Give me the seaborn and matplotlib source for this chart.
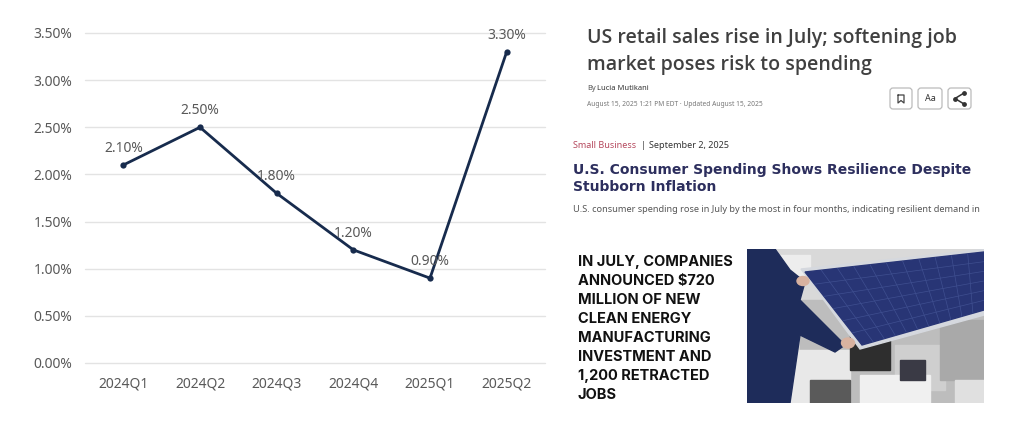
import numpy as np
import pandas as pd
import matplotlib.pyplot as plt
import matplotlib.patches as mpatches
import seaborn as sns

# --- chart data ---
quarters = ["2024Q1", "2024Q2", "2024Q3", "2024Q4", "2025Q1", "2025Q2"]
growth = [2.10, 2.50, 1.80, 1.20, 0.90, 3.30]
y_ticks = [0.0, 0.5, 1.0, 1.5, 2.0, 2.5, 3.0, 3.5]

# --- news clippings on the right ---
headline_1 = ["US retail sales rise in July; softening job", "market poses risk to spending"]
byline_1 = "By Lucia Mutikani"
dateline_1 = "August 15, 2025 1:21 PM EDT · Updated August 15, 2025"
section_2 = "Small Business"
date_2 = "September 2, 2025"
headline_2 = ["U.S. Consumer Spending Shows Resilience Despite", "Stubborn Inflation"]
body_2 = "U.S. consumer spending rose in July by the most in four months, indicating resilient demand in"
callout_3 = ["IN JULY, COMPANIES", "ANNOUNCED $720", "MILLION OF NEW", "CLEAN ENERGY",
             "MANUFACTURING", "INVESTMENT AND", "1,200 RETRACTED", "JOBS"]

NAVY = "#172b4d"
GREY_TXT = "#595959"
W, H = 1024, 434


def fig_rect(x0, y0, x1, y1):
    # pixel box (top-left origin) -> figure fraction rect
    return [x0 / W, 1 - y1 / H, (x1 - x0) / W, (y1 - y0) / H]


sns.set_theme(style="whitegrid")
plt.rcParams["font.family"] = ["Noto Sans", "DejaVu Sans"]

fig = plt.figure(figsize=(W / 100, H / 100), dpi=100)
fig.patch.set_facecolor("white")

# 1. Line chart
df = pd.DataFrame({"quarter": quarters, "growth": growth})
ax = fig.add_axes(fig_rect(85, 33, 545, 363))
sns.lineplot(data=df, x="quarter", y="growth", ax=ax, sort=False,
             color=NAVY, linewidth=2, marker="o", markersize=4.5,
             markeredgewidth=0, zorder=3)
ax.set_xlim(-0.5, len(quarters) - 0.5)
ax.set_ylim(0, 3.5)
ax.set_yticks(y_ticks)
ax.set_yticklabels([f"{v:.2f}%" for v in y_ticks])
ax.set_xlabel("")
ax.set_ylabel("")
ax.grid(axis="x", visible=False)
ax.grid(axis="y", color="#e3e3e3", linewidth=1)
ax.set_facecolor("white")
for s in ax.spines.values():
    s.set_visible(False)
ax.tick_params(axis="y", length=0, pad=9, labelsize=10, labelcolor=GREY_TXT)
ax.tick_params(axis="x", length=0, pad=10, labelsize=10, labelcolor=GREY_TXT)
for i, v in enumerate(growth):
    ax.annotate(f"{v:.2f}%", (i, v), xytext=(0, 6.5), textcoords="offset points",
                ha="center", va="bottom", fontsize=10, color=GREY_TXT)
for gl in ax.get_ygridlines():
    gl.set_clip_on(False)

# 2. Overlay in pixel coords for the clippings
deco = fig.add_axes([0, 0, 1, 1])
deco.set_xlim(0, W)
deco.set_ylim(H, 0)
deco.axis("off")
deco.patch.set_alpha(0)

# Reuters-style headline
for k, line in enumerate(headline_1):
    deco.text(587, 38 + k * 27, line, fontsize=14.0, color="#404040",
              fontweight="semibold", family=["Open Sans", "DejaVu Sans"],
              va="center", ha="left")
deco.text(587, 88, "By", fontsize=5.4, color="#555555", va="center")
deco.text(597, 88, byline_1.replace("By ", ""), fontsize=5.4, color="#333333",
          fontweight="bold", va="center")
deco.text(587, 104, dateline_1, fontsize=4.8, color="#777777", va="center")

# toolbar icons
for x0, x1 in [(890, 912), (918, 942), (948, 971)]:
    deco.add_patch(mpatches.FancyBboxPatch((x0, 88), x1 - x0, 21,
                                           boxstyle="round,pad=0,rounding_size=3",
                                           facecolor="white", edgecolor="#bbbbbb",
                                           linewidth=0.9))
deco.plot([898, 898, 901, 904, 904, 898], [95, 103, 100.5, 103, 95, 95],
          color="#444444", linewidth=0.9)
deco.text(930, 98.5, "Aa", fontsize=6.5, color="#333333", ha="center", va="center",
          fontweight="semibold")
deco.plot([964, 955, 964], [93, 98.5, 104], color="#333333", linewidth=1.1)
deco.scatter([964, 955, 964], [93, 98.5, 104], s=6, color="#333333", zorder=3)

# Small Business clipping
deco.text(573, 146, section_2, fontsize=6.5, color="#b5485d", va="center")
deco.text(641, 146, "|", fontsize=6.5, color="#333333", va="center")
deco.text(649, 146, date_2, fontsize=6.5, color="#333333", va="center",
          fontweight="semibold")
for k, line in enumerate(headline_2):
    deco.text(573, 170 + k * 17, line, fontsize=10.0, color="#2d2f5e",
              fontweight="bold", family=["DejaVu Sans"], va="center")
deco.text(573, 210, body_2, fontsize=6.6, color="#555555", va="center")

# Bold callout
for k, line in enumerate(callout_3):
    deco.text(578, 262 + k * 19, line, fontsize=10.5, color="#111111",
              fontweight="bold", family=["Inter", "DejaVu Sans"], va="center")

# 3. Photo stand-in (solar panel on a line)
ph = fig.add_axes(fig_rect(747, 249, 984, 403))
ph.set_xlim(747, 984)
ph.set_ylim(403, 249)
ph.axis("off")
ph.add_patch(mpatches.Rectangle((747, 249), 237, 154, color="#d9d9d9"))
# machinery blocks
for (x, y, w, h, c) in [(800, 300, 184, 103, "#bdbdbd"), (790, 350, 60, 53, "#e8e8e8"),
                        (850, 330, 40, 40, "#2e2e2e"), (895, 345, 50, 45, "#cfcfcf"),
                        (940, 320, 44, 60, "#a9a9a9"), (860, 375, 70, 28, "#f0f0f0"),
                        (810, 380, 40, 23, "#5a5a5a"), (955, 380, 29, 23, "#e0e0e0"),
                        (900, 360, 25, 20, "#3a3a45"), (770, 255, 40, 20, "#ededed")]:
    ph.add_patch(mpatches.Rectangle((x, y), w, h, color=c))
# panel frame + cells
corners = np.array([[805, 272], [984, 252], [984, 310], [862, 345]])
ph.add_patch(mpatches.Polygon(corners + np.array([[-4, -3], [4, -3], [4, 4], [-2, 4]]),
                              closed=True, color="#d5d8de"))
ph.add_patch(mpatches.Polygon(corners, closed=True, color="#283575"))
for t in np.linspace(0, 1, 12)[1:-1]:
    a = corners[0] + t * (corners[1] - corners[0])
    b = corners[3] + t * (corners[2] - corners[3])
    ph.plot([a[0], b[0]], [a[1], b[1]], color="#3f4f90", linewidth=0.5)
for t in np.linspace(0, 1, 7)[1:-1]:
    a = corners[0] + t * (corners[3] - corners[0])
    b = corners[1] + t * (corners[2] - corners[1])
    ph.plot([a[0], b[0]], [a[1], b[1]], color="#3f4f90", linewidth=0.5)
# worker
ph.add_patch(mpatches.Polygon([[747, 249], [775, 249], [790, 270], [805, 282], [800, 300],
                               [830, 330], [845, 345], [835, 352], [800, 335],
                               [790, 403], [747, 403]], closed=True, color="#1e2c5a"))
ph.add_patch(mpatches.Ellipse((803, 281), 12, 9, color="#d8b2a0"))
ph.add_patch(mpatches.Ellipse((848, 343), 13, 10, color="#d8b2a0"))

fig.savefig("out.png", dpi=100, facecolor="white")
